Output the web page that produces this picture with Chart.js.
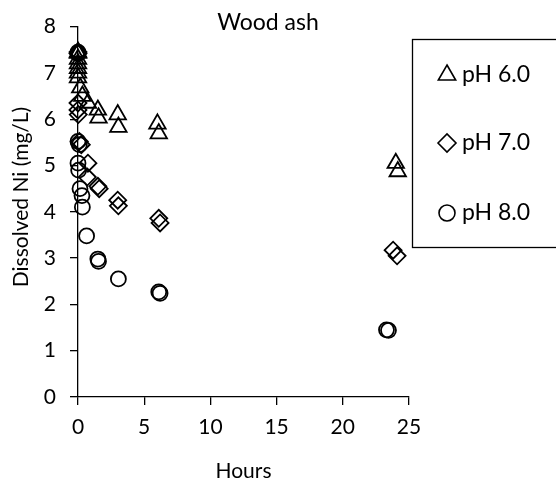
<!DOCTYPE html>
<html>
<head>
<meta charset="utf-8">
<title>Wood ash</title>
<script src="https://cdn.jsdelivr.net/npm/chart.js@4.4.0/dist/chart.umd.min.js"></script>
<style>
  html, body { margin: 0; padding: 0; background: #fff; }
  #wrap { width: 556px; height: 488px; }
</style>
</head>
<body>
<div id="wrap"><canvas id="niChart" width="556" height="488"></canvas></div>
<script>
// Dissolved Ni vs time, three pH runs (two replicates each)
const hoursPH6 = [0, 0, 0, 0, 0, 0, 0, 0.17, 0.33, 0.75, 1.5, 1.55, 3, 3.05, 6, 6.1, 24, 24.15];
const niPH6    = [7.45, 7.43, 7.3, 7.2, 7.1, 7.0, 6.9, 6.68, 6.5, 6.35, 6.2, 6.03, 6.1, 5.83, 5.9, 5.69, 5.05, 4.87];

const hoursPH7 = [0, 0, 0, 0, 0.02, 0.1, 0.25, 0.75, 0.7, 1.5, 1.6, 3, 3.05, 6.1, 6.2, 23.8, 24.1];
const niPH7    = [7.45, 7.42, 6.35, 6.2, 6.1, 5.52, 5.45, 5.05, 4.75, 4.55, 4.5, 4.25, 4.13, 3.86, 3.76, 3.17, 3.05];

const hoursPH8 = [0, 0, 0, 0.1, 0, 0.05, 0.15, 0.3, 0.33, 0.65, 1.5, 1.55, 3.05, 6.1, 6.2, 23.3, 23.45];
const niPH8    = [7.45, 7.42, 5.52, 5.45, 5.05, 4.9, 4.5, 4.35, 4.1, 3.48, 2.98, 2.93, 2.55, 2.27, 2.24, 1.45, 1.44];

const seriesLabels = ['pH 6.0', 'pH 7.0', 'pH 8.0'];
const seriesShapes = ['triangle', 'rectRot', 'circle'];
const seriesRadius = [9.5, 8.5, 7.5];

const X_MIN = 0, X_MAX = 25, X_STEP = 5;
const Y_MIN = 0, Y_MAX = 8, Y_STEP = 1;

const FONT = 'Lato, "Open Sans", sans-serif';
const INK = '#000';

function toPoints(xs, ys) {
    return xs.map((x, i) => ({ x: x, y: ys[i] }));
}

function makeSet(i, xs, ys) {
    return {
        label: seriesLabels[i],
        data: toPoints(xs, ys),
        pointStyle: seriesShapes[i],
        pointRadius: seriesRadius[i],
        pointHoverRadius: seriesRadius[i],
        pointBorderColor: INK,
        pointBackgroundColor: 'rgba(0,0,0,0)',
        pointBorderWidth: 1.8,
        showLine: false,
        clip: false
    };
}

// title, rotated y label and the boxed legend on the right
const decorPlugin = {
    id: 'decor',
    afterDraw(chart) {
        const ctx = chart.ctx;
        ctx.save();
        ctx.fillStyle = INK;
        ctx.textBaseline = 'middle';

        ctx.font = '23px ' + FONT;
        ctx.textAlign = 'center';
        ctx.fillText('Wood ash', 268, 23);

        ctx.save();
        ctx.translate(21, 197);
        ctx.rotate(-Math.PI / 2);
        ctx.font = '21px ' + FONT;
        ctx.fillText('Dissolved Ni (mg/L)', 0, 0);
        ctx.restore();

        // legend frame runs off the right edge
        ctx.strokeStyle = INK;
        ctx.lineWidth = 1.3;
        ctx.strokeRect(412.5, 39.5, 200, 208);

        const rows = [75, 143, 213];
        ctx.font = '23px ' + FONT;
        ctx.textAlign = 'left';
        seriesLabels.forEach((label, i) => {
            const opts = {
                pointStyle: seriesShapes[i],
                radius: seriesRadius[i] + 0.5,
                rotation: 0,
                borderWidth: 1.6
            };
            ctx.save();
            ctx.strokeStyle = INK;
            ctx.fillStyle = 'rgba(0,0,0,0)';
            ctx.lineWidth = 1.6;
            Chart.helpers.drawPoint(ctx, opts, 447, rows[i]);
            ctx.restore();
            ctx.fillText(label, 462, rows[i]);
        });
        ctx.restore();
    }
};

const axisGrid = {
    drawOnChartArea: false,
    drawTicks: true,
    tickLength: 8,
    color: INK,
    lineWidth: 1.3
};

new Chart(document.getElementById('niChart'), {
    type: 'scatter',
    data: {
        datasets: [
            makeSet(0, hoursPH6, niPH6),
            makeSet(1, hoursPH7, niPH7),
            makeSet(2, hoursPH8, niPH8)
        ]
    },
    options: {
        responsive: false,
        animation: false,
        devicePixelRatio: 1,
        layout: { padding: { left: 0, right: 147, top: 17, bottom: 0 } },
        plugins: {
            legend: { display: false },
            title: { display: false },
            tooltip: { enabled: false }
        },
        scales: {
            x: {
                type: 'linear',
                min: X_MIN,
                max: X_MAX,
                afterFit: (s) => { s.height = 91; },
                ticks: { stepSize: X_STEP, color: INK, font: { family: FONT, size: 21 }, padding: 10 },
                grid: axisGrid,
                border: { color: INK, width: 1.3 },
                title: {
                    display: true,
                    text: 'Hours',
                    color: INK,
                    font: { family: FONT, size: 21 },
                    padding: { top: 0, bottom: 4 }
                }
            },
            y: {
                type: 'linear',
                min: Y_MIN,
                max: Y_MAX,
                afterFit: (s) => { s.width = 78; },
                ticks: { stepSize: Y_STEP, color: INK, font: { family: FONT, size: 21 }, padding: 14 },
                grid: axisGrid,
                border: { color: INK, width: 1.3 }
            }
        }
    },
    plugins: [decorPlugin]
});
</script>
</body>
</html>
